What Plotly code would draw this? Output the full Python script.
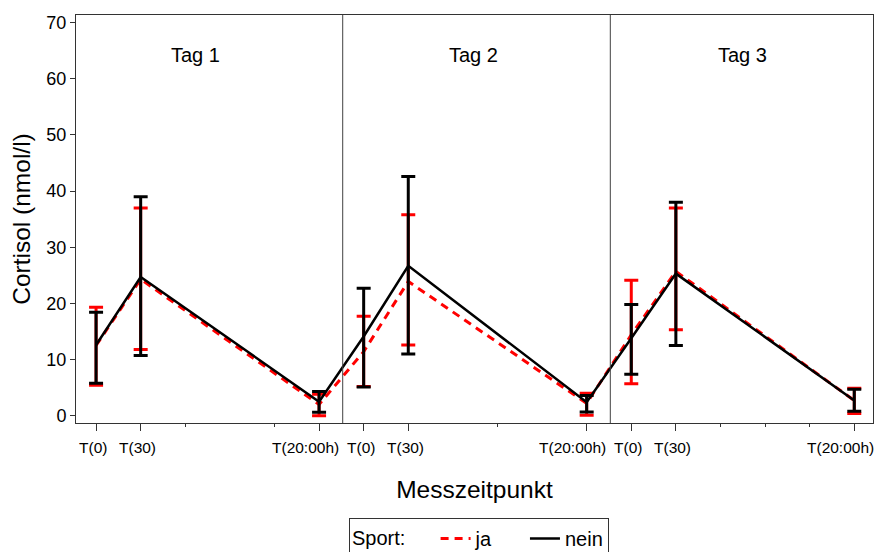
import plotly.graph_objects as go

# x positions (index units) and tick labels
x_pos = [0, 1, 5, 6, 7, 11, 12, 13, 17]
tick_labels = ["T(0)", "T(30)", "T(20:00h)"] * 3
minor_ticks = [2, 4, 9, 14, 15, 16]
day_labels = ["Tag 1", "Tag 2", "Tag 3"]
day_label_x = [2.24, 8.47, 14.5]
day_separators = [5.53, 11.53]

# Sport = ja (red dashed)
ja_mean = [12.5, 24.3, 2.0, 11.4, 23.9, 2.2, 14.4, 25.7, 2.7]
ja_upper = [19.3, 37.0, 3.8, 17.7, 35.8, 4.0, 24.1, 37.0, 4.9]
ja_lower = [5.4, 11.8, 0.0, 5.2, 12.6, 0.1, 5.7, 15.3, 0.4]

# Sport = nein (black solid)
nein_mean = [12.6, 24.7, 2.5, 14.1, 26.7, 2.4, 13.8, 25.3, 2.7]
nein_upper = [18.4, 39.0, 4.3, 22.7, 42.6, 3.6, 19.8, 38.0, 4.7]
nein_lower = [5.8, 10.7, 0.6, 5.1, 11.0, 0.65, 7.4, 12.5, 0.8]

FONT = "Arial, Liberation Sans, sans-serif"
NB = "\u00a0"


def err(mean, up, lo):
    return [u - m for u, m in zip(up, mean)], [m - l for m, l in zip(mean, lo)]


fig = go.Figure()
ja_p, ja_m = err(ja_mean, ja_upper, ja_lower)
nein_p, nein_m = err(nein_mean, nein_upper, nein_lower)

fig.add_trace(go.Scatter(
    x=x_pos, y=ja_mean, mode="lines", name="ja" + NB * 5,
    line=dict(color="#ff0000", width=3, dash="8px,6px"),
    error_y=dict(type="data", array=ja_p, arrayminus=ja_m, color="#ff0000",
                 thickness=3, width=7, symmetric=False),
))
fig.add_trace(go.Scatter(
    x=x_pos, y=nein_mean, mode="lines", name="nein",
    line=dict(color="#000000", width=2.5),
    error_y=dict(type="data", array=nein_p, arrayminus=nein_m, color="#000000",
                 thickness=3, width=7, symmetric=False),
))

for xs in day_separators:
    fig.add_shape(type="line", x0=xs, x1=xs, y0=0, y1=1, xref="x", yref="paper",
                  line=dict(color="#404040", width=1))

for lbl, xl in zip(day_labels, day_label_x):
    fig.add_annotation(x=xl, y=64.2, text=lbl, showarrow=False,
                       font=dict(family=FONT, size=20, color="black"))

# tick labels for the x axis (sit slightly left of their ticks, as in the original)
for xv, lbl in zip(x_pos, tick_labels):
    fig.add_annotation(x=xv, xref="x", y=0, yref="paper", text=lbl, showarrow=False,
                       xanchor="center", yanchor="middle",
                       xshift=-14 if "20" in lbl else -3, yshift=-24,
                       font=dict(family=FONT, size=15.5, color="black"))

fig.update_layout(
    width=875, height=552,
    margin=dict(l=76, r=2, t=15, b=129),
    plot_bgcolor="white", paper_bgcolor="white",
    font=dict(family=FONT, color="black"),
    showlegend=True,
    legend=dict(
        orientation="h", xref="container", yref="container",
        x=479 / 875, xanchor="center", y=1 - 518 / 552, yanchor="top",
        bordercolor="#333", borderwidth=1, bgcolor="white",
        font=dict(family=FONT, size=20, color="black"),
        title=dict(text="Sport:" + NB * 4, side="left",
                   font=dict(family=FONT, size=20, color="black")),
        itemwidth=30, tracegroupgap=0,
    ),
    xaxis=dict(
        range=[-0.45, 17.42], tickmode="array", tickvals=x_pos,
        showticklabels=False, automargin=False,
        ticks="outside", ticklen=7, tickcolor="#333", showgrid=False, zeroline=False,
        showline=True, linecolor="#333", linewidth=1, mirror=True,
        minor=dict(tickmode="array", tickvals=minor_ticks, ticks="outside", ticklen=3,
                   tickcolor="#333", showgrid=False),
        title=dict(text="Messzeitpunkt", font=dict(family=FONT, size=24.5, color="black"),
                   standoff=50),
    ),
    yaxis=dict(
        range=[-1.3, 71.35], tickmode="array", tickvals=[0, 10, 20, 30, 40, 50, 60, 70],
        automargin=False,
        ticks="outside", ticklen=5, tickcolor="#333", showgrid=False, zeroline=False,
        showline=True, linecolor="#333", linewidth=1, mirror=True,
        tickfont=dict(family=FONT, size=18, color="black"),
        title=dict(text="Cortisol (nmol/l)", font=dict(family=FONT, size=24.5, color="black"),
                   standoff=8),
    ),
)

fig.write_html("out.html")
